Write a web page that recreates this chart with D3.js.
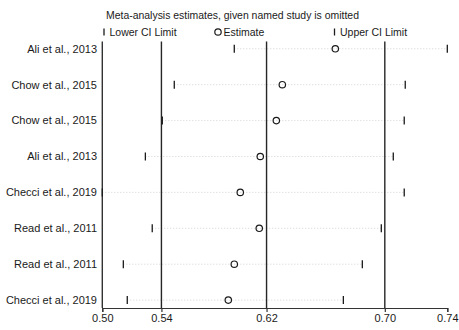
<!DOCTYPE html>
<html>
<head>
<meta charset="utf-8">
<script src="https://cdn.jsdelivr.net/npm/d3@7"></script>
<style>
  body { margin: 0; background: #fff; }
  text { font-family: "Liberation Sans", Arial, sans-serif; fill: #1a1a1a; }
</style>
</head>
<body>
<svg id="chart"></svg>
<script>
const width = 459, height = 330;

// omitted study for each row, top to bottom
const studies = ["Ali et al., 2013", "Chow et al., 2015", "Chow et al., 2015", "Ali et al., 2013",
    "Checci et al., 2019", "Read et al., 2011", "Read et al., 2011", "Checci et al., 2019"];
const lowerCI = [0.5944, 0.5533, 0.5451, 0.5335, 0.5040, 0.5382, 0.5184, 0.5211];
const estimate = [0.6636, 0.6273, 0.6232, 0.6122, 0.5985, 0.6115, 0.5944, 0.5903];
const upperCI = [0.7403, 0.7115, 0.7108, 0.7033, 0.7108, 0.6951, 0.6821, 0.6691];

// overall estimate and its CI (vertical lines), plus axis extremes
const tickValues = [0.504, 0.5445, 0.6165, 0.6975, 0.7403];
const tickLabels = ["0.50", "0.54", "0.62", "0.70", "0.74"];
const refLines = [0.5445, 0.6165, 0.6975];

const plotLeft = 102.3, plotRight = 447.3, plotTop = 41.6, plotBottom = 308;

const svg = d3.select('#chart')
    .attr('width', width)
    .attr('height', height);

const x = d3.scaleLinear()
    .domain([tickValues[0], tickValues[tickValues.length - 1]])
    .range([plotLeft, plotRight]);
const y = d3.scaleLinear()
    .domain([0.8, studies.length + 0.2])
    .range([plotTop, plotBottom - 0.7]);

// title and legend
svg.append('text')
    .attr('x', 106)
    .attr('y', 19)
    .attr('font-size', 10.45)
    .text('Meta-analysis estimates, given named study is omitted');

const legend = [
    {x: 104, kind: 'bar', label: 'Lower CI Limit'},
    {x: 218, kind: 'circle', label: 'Estimate'},
    {x: 334.5, kind: 'bar', label: 'Upper CI Limit'}
];
legend.forEach(d => {
    if (d.kind === 'bar') {
        svg.append('line')
            .attr('x1', d.x).attr('x2', d.x)
            .attr('y1', 28.5).attr('y2', 35.5)
            .attr('stroke', '#1a1a1a').attr('stroke-width', 1.3);
    } else {
        svg.append('circle')
            .attr('cx', d.x).attr('cy', 32)
            .attr('r', 3.2)
            .attr('fill', 'none').attr('stroke', '#1a1a1a').attr('stroke-width', 1.2);
    }
    svg.append('text')
        .attr('x', d.x + 5.5)
        .attr('y', 36)
        .attr('font-size', 10.5)
        .text(d.label);
});

// dotted lines from lower to upper limit
svg.append('g').selectAll('line')
    .data(studies)
    .join('line')
    .attr('x1', (d, i) => x(lowerCI[i]))
    .attr('x2', (d, i) => x(upperCI[i]))
    .attr('y1', (d, i) => y(i + 1))
    .attr('y2', (d, i) => y(i + 1))
    .attr('stroke', '#c8c8c8')
    .attr('stroke-width', 0.8)
    .attr('stroke-dasharray', '1,2');

// reference lines
svg.append('g').selectAll('line')
    .data(refLines)
    .join('line')
    .attr('x1', d => x(d)).attr('x2', d => x(d))
    .attr('y1', plotTop).attr('y2', plotBottom)
    .attr('stroke', '#262626')
    .attr('stroke-width', 1.4);

// left axis line
svg.append('line')
    .attr('x1', plotLeft).attr('x2', plotLeft)
    .attr('y1', plotTop).attr('y2', plotBottom)
    .attr('stroke', '#333').attr('stroke-width', 1.4);

// bottom axis
const xAxis = d3.axisBottom(x)
    .tickValues(tickValues)
    .tickFormat((d, i) => tickLabels[i])
    .tickSize(4)
    .tickPadding(2);
const gx = svg.append('g')
    .attr('transform', `translate(0,${plotBottom})`)
    .call(xAxis);
gx.select('.domain').attr('stroke', '#333').attr('stroke-width', 1.2);
gx.selectAll('.tick line').attr('stroke', '#333').attr('stroke-width', 1.2);
gx.selectAll('.tick text')
    .attr('font-family', '"Liberation Sans", Arial, sans-serif')
    .attr('font-size', 11)
    .attr('fill', '#1a1a1a');

// study labels
svg.append('g').selectAll('text')
    .data(studies)
    .join('text')
    .attr('x', 97)
    .attr('y', (d, i) => y(i + 1))
    .attr('dy', '0.35em')
    .attr('text-anchor', 'end')
    .attr('font-size', 11)
    .text(d => d);

// lower and upper limit bars
const bars = svg.append('g');
[lowerCI, upperCI].forEach(vals => {
    bars.selectAll(null)
        .data(vals)
        .join('line')
        .attr('x1', d => x(d)).attr('x2', d => x(d))
        .attr('y1', (d, i) => y(i + 1) - 4)
        .attr('y2', (d, i) => y(i + 1) + 4)
        .attr('stroke', '#1a1a1a')
        .attr('stroke-width', 1.3);
});

// estimates
svg.append('g').selectAll('circle')
    .data(estimate)
    .join('circle')
    .attr('cx', d => x(d))
    .attr('cy', (d, i) => y(i + 1))
    .attr('r', 3.2)
    .attr('fill', 'none')
    .attr('stroke', '#1a1a1a')
    .attr('stroke-width', 1.2);
</script>
</body>
</html>
